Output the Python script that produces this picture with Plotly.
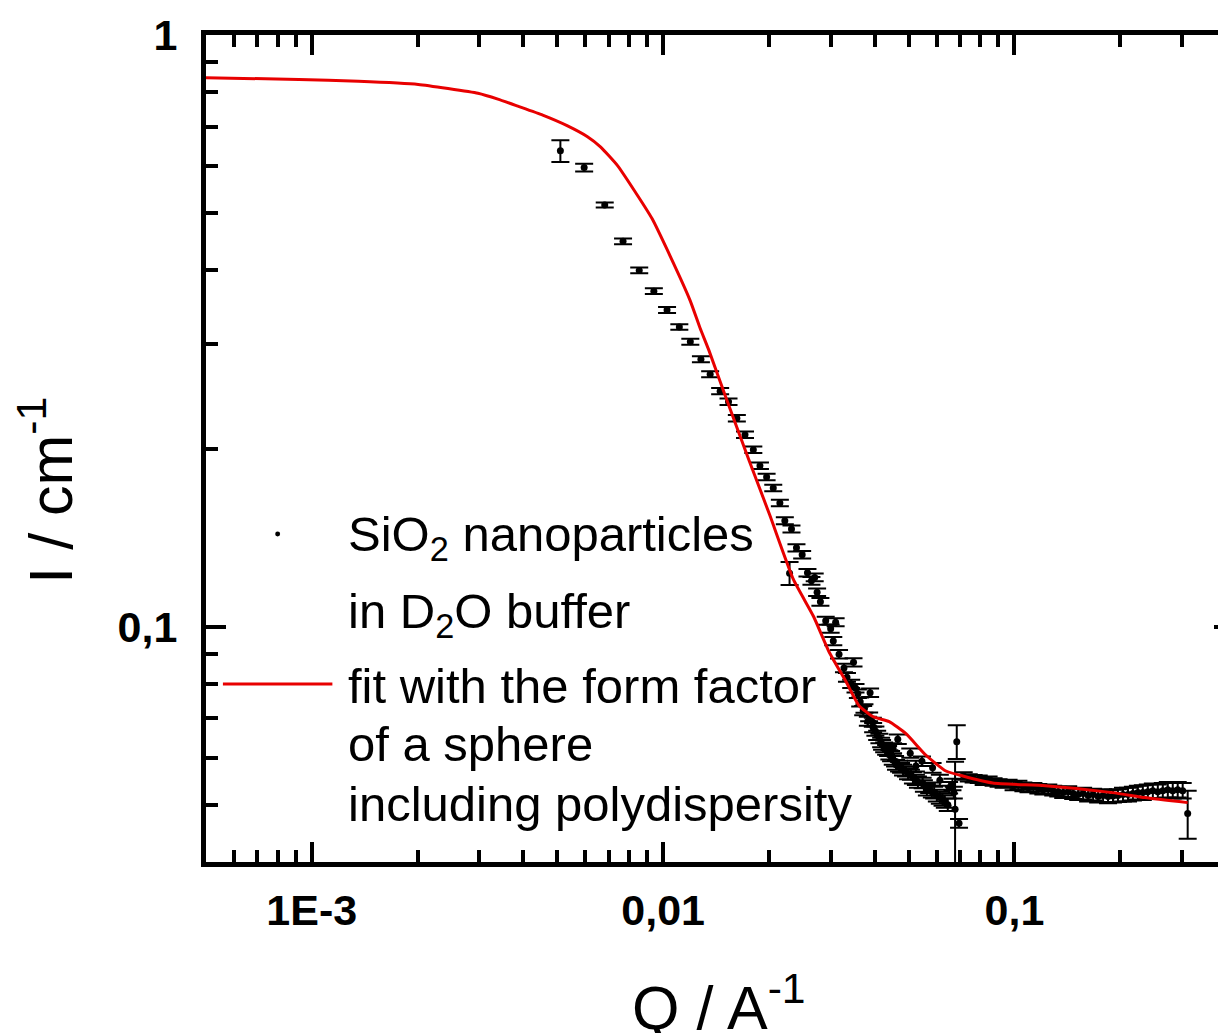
import math
import plotly.graph_objects as go

# Measured small-angle scattering intensity (I / cm^-1 versus Q / A^-1)
q_data = [
    5.10e-3, 5.96e-3, 6.82e-3, 7.69e-3, 8.55e-3, 9.41e-3, 1.026e-2, 1.112e-2,
    1.195e-2, 1.281e-2, 1.361e-2, 1.453e-2, 1.535e-2, 1.621e-2, 1.710e-2, 1.806e-2,
    1.886e-2, 1.970e-2, 2.058e-2, 2.149e-2, 2.220e-2, 2.319e-2, 2.396e-2, 2.487e-2,
    2.290e-2, 2.575e-2, 2.700e-2, 2.643e-2, 2.743e-2, 2.803e-2, 2.902e-2, 3.097e-2,
    2.998e-2, 3.050e-2, 3.167e-2, 3.482e-2, 3.271e-2, 3.336e-2, 3.430e-2, 3.528e-2,
    3.583e-2, 3.882e-2, 3.741e-2, 3.825e-2, 3.952e-2, 4.019e-2, 4.126e-2, 4.654e-2,
    4.199e-2, 4.311e-2, 4.404e-2, 5.050e-2, 4.503e-2, 4.601e-2, 5.452e-2, 4.755e-2,
    4.912e-2, 5.846e-2, 5.074e-2, 5.241e-2, 5.477e-2, 5.717e-2, 5.907e-2, 6.240e-2,
    6.515e-2, 6.660e-2, 6.850e-2, 6.775e-2, 6.953e-2,
    3.638e-2, 3.710e-2, 3.858e-2, 3.960e-2, 4.066e-2, 4.173e-2, 4.256e-2, 4.368e-2,
    4.454e-2, 4.572e-2, 4.693e-2, 4.817e-2, 4.977e-2, 5.140e-2, 5.311e-2, 5.523e-2,
    5.632e-2, 5.819e-2, 6.012e-2, 6.131e-2, 6.334e-2, 6.459e-2,
    4.513e-2, 5.241e-2, 6.131e-2, 6.718e-2,
    0.0717, 0.0741, 0.0765, 0.0791, 0.0817, 0.0844, 0.0872, 0.0901, 0.0931, 0.0962,
    0.0994, 0.1026, 0.1060, 0.1096, 0.1132, 0.1169, 0.1208, 0.1248, 0.1289, 0.1332,
    0.1376, 0.1422, 0.1469, 0.1518, 0.1568, 0.1620, 0.1674, 0.1730, 0.1787, 0.1846,
    0.1907, 0.1970, 0.2036, 0.2104, 0.2173, 0.2245, 0.2319, 0.2396, 0.2476, 0.2558,
    0.2643, 0.2731, 0.2821, 0.2914, 0.3011, 0.3111,
]
i_data = [
    0.637, 0.597, 0.516, 0.448, 0.400, 0.369, 0.343, 0.321,
    0.303, 0.283, 0.267, 0.250, 0.240, 0.225, 0.211, 0.199,
    0.187, 0.179, 0.1715, 0.1618, 0.1510, 0.1462, 0.1359, 0.1323,
    0.1231, 0.1233, 0.1211, 0.1195, 0.1143, 0.1101, 0.1023, 0.1017,
    0.0992, 0.0945, 0.0898, 0.0870, 0.0851, 0.0821, 0.0800, 0.0787,
    0.0770, 0.0773, 0.0727, 0.0692, 0.0689, 0.0666, 0.0647, 0.0645,
    0.0631, 0.0619, 0.0607, 0.0611, 0.0595, 0.0584, 0.0592, 0.0577,
    0.0569, 0.0577, 0.0562, 0.0551, 0.0544, 0.0534, 0.0524, 0.0510,
    0.0534, 0.0541, 0.0639, 0.0491, 0.0465,
    0.0746, 0.0721, 0.0704, 0.0675, 0.0655, 0.0637, 0.0625, 0.0616,
    0.0604, 0.0592, 0.0581, 0.0572, 0.0564, 0.0555, 0.0546, 0.0538,
    0.0530, 0.0526, 0.0518, 0.0514, 0.0506, 0.0500,
    0.0623, 0.0581, 0.0550, 0.0524,
    0.0559, 0.0555, 0.0553, 0.0552, 0.0548, 0.0550, 0.0546, 0.0544, 0.0542, 0.0543,
    0.0538, 0.0540, 0.0536, 0.0534, 0.0535, 0.0532, 0.0530, 0.0531, 0.0528, 0.0526,
    0.0524, 0.0526, 0.0522, 0.0520, 0.0522, 0.0518, 0.0520, 0.0516, 0.0518, 0.0516,
    0.0517, 0.0518, 0.0520, 0.0520, 0.0522, 0.0524, 0.0524, 0.0526, 0.0528, 0.0526,
    0.0528, 0.0530, 0.0528, 0.0530, 0.0528, 0.0483,
]
i_err = [
    0.027, 0.009, 0.005, 0.005, 0.0045, 0.004, 0.004, 0.0035,
    0.0035, 0.0033, 0.0031, 0.003, 0.003, 0.0028, 0.0026, 0.0025,
    0.0024, 0.0023, 0.0022, 0.0021, 0.002, 0.002, 0.0019, 0.0019,
    0.0055, 0.0018, 0.0018, 0.0018, 0.0017, 0.0017, 0.0016, 0.0016,
    0.0016, 0.0015, 0.0015, 0.0014, 0.0014, 0.0014, 0.0013, 0.0013,
    0.0013, 0.0013, 0.0012, 0.0012, 0.0012, 0.0012, 0.0012, 0.0012,
    0.0012, 0.0012, 0.0011, 0.0011, 0.0011, 0.0011, 0.0011, 0.0011,
    0.0011, 0.0011, 0.0011, 0.0011, 0.0011, 0.0011, 0.0012, 0.0012,
    0.0012, 0.0012, 0.0042, 0.0100, 0.0008,
    0.0013, 0.0013, 0.0012, 0.0012, 0.0012, 0.0012, 0.0012, 0.0012,
    0.0012, 0.0012, 0.0012, 0.0012, 0.0012, 0.0012, 0.0012, 0.0012,
    0.0012, 0.0012, 0.0012, 0.0012, 0.0012, 0.0012,
    0.0012, 0.0012, 0.0012, 0.0012,
    0.0008, 0.0008, 0.0008, 0.0008, 0.0008, 0.0008, 0.0008, 0.0008, 0.0008, 0.0008,
    0.0009, 0.0009, 0.0009, 0.0009, 0.0009, 0.0010, 0.0010, 0.0010, 0.0010, 0.0010,
    0.0011, 0.0011, 0.0011, 0.0011, 0.0012, 0.0012, 0.0012, 0.0012, 0.0013, 0.0013,
    0.0013, 0.0013, 0.0014, 0.0014, 0.0014, 0.0014, 0.0015, 0.0015, 0.0015, 0.0015,
    0.0016, 0.0016, 0.0016, 0.0016, 0.0016, 0.0045,
]

# Sphere form factor fit including polydispersity
fit_q = [
    5.0e-4, 9.19e-4, 1.358e-3, 2.009e-3, 2.443e-3, 2.972e-3, 3.386e-3, 3.859e-3,
    4.542e-3, 5.346e-3, 6.091e-3, 6.631e-3, 7.408e-3, 8.277e-3, 9.307e-3,
    1.026e-2, 1.193e-2, 1.273e-2, 1.350e-2, 1.518e-2, 1.762e-2, 2.01e-2, 2.35e-2,
    2.68e-2, 2.97e-2, 3.32e-2, 3.61e-2, 3.96e-2, 4.40e-2, 4.91e-2, 5.60e-2,
    6.38e-2, 7.13e-2, 8.67e-2, 0.1225, 0.190, 0.235, 0.311,
]
fit_i = [
    0.847, 0.841, 0.835, 0.825, 0.812, 0.797, 0.779, 0.758,
    0.732, 0.702, 0.673, 0.647, 0.602, 0.546, 0.489,
    0.434, 0.356, 0.320, 0.293, 0.2415, 0.190, 0.1545, 0.120,
    0.104, 0.0905, 0.0806, 0.0735, 0.0704, 0.0691, 0.0659, 0.0606,
    0.0570, 0.0559, 0.0544, 0.0538, 0.0524, 0.0514, 0.0504,
]

x_tick_vals = [1e-3, 1e-2, 1e-1]
x_tick_text = ["1E-3", "0,01", "0,1"]
y_tick_vals = [0.1, 1]
y_tick_text = ["0,1", "1"]

legend_lines = [
    "SiO<sub>2</sub> nanoparticles",
    "in D<sub>2</sub>O buffer",
    "fit with the form factor",
    "of a sphere",
    "including polydispersity",
]

FONT = "Liberation Sans, Arial, Helvetica, sans-serif"
W, H = 1250, 1033
L, R, T, B = 206, 11, 30, 171
PW, PH = W - L - R, H - T - B
DECADE_PX = 353.07          # horizontal length of one decade of Q
X_LO = 5e-4
X_HI = X_LO * 10 ** (PW / DECADE_PX)
Y_LO, Y_HI = 0.04, 1.0


def paper_x(p):
    return (p - L) / PW


def paper_y(p):
    return (H - B - p) / PH


minor_x = [k * 10.0 ** e for e in (-4, -3, -2, -1) for k in range(2, 10)]
minor_x = [v for v in minor_x if X_LO <= v <= X_HI]
minor_y = [k * 10.0 ** e for e in (-2, -1) for k in range(2, 10)]
minor_y = [v for v in minor_y if Y_LO <= v < Y_HI]

fig = go.Figure()

fig.add_trace(go.Scatter(
    x=q_data, y=i_data, mode="markers",
    marker=dict(color="black", size=7),
    error_y=dict(type="data", array=i_err, visible=True,
                 color="black", thickness=2, width=9),
    showlegend=False,
))

fig.add_trace(go.Scatter(
    x=fit_q, y=fit_i, mode="lines",
    line=dict(color="rgb(232,0,0)", width=3, shape="spline", smoothing=0.5),
    showlegend=False,
))

axis_common = dict(
    type="log", showline=True, linewidth=5, linecolor="black", mirror="ticks",
    ticks="inside", ticklen=20, tickwidth=4, tickcolor="black",
    showgrid=False, zeroline=False,
    tickfont=dict(family=FONT, size=43, color="black", weight="bold"),
)

fig.update_xaxes(
    **axis_common,
    range=[math.log10(X_LO), math.log10(X_HI)],
    tickmode="array", tickvals=x_tick_vals, ticktext=x_tick_text,
    ticklabelstandoff=6,
    minor=dict(tickmode="array", tickvals=minor_x, ticks="inside",
               ticklen=12, tickwidth=4, tickcolor="black", showgrid=False),
)
fig.update_yaxes(
    **axis_common,
    range=[math.log10(Y_LO), math.log10(Y_HI)],
    tickmode="array", tickvals=y_tick_vals, ticktext=y_tick_text,
    ticklabelstandoff=15,
    minor=dict(tickmode="array", tickvals=minor_y, ticks="inside",
               ticklen=12, tickwidth=4, tickcolor="black", showgrid=False),
)

annotations = []
# legend text, one annotation per line (baseline pixel rows)
for text, base in zip(legend_lines, [548, 626, 701, 760, 820]):
    annotations.append(dict(
        text=text, xref="paper", yref="paper",
        x=paper_x(347), y=paper_y(base - 45.5), xanchor="left", yanchor="top",
        showarrow=False, font=dict(family=FONT, size=49, color="black"),
    ))

# axis titles
annotations.append(dict(
    text="Q / A<sup>-1</sup>", xref="paper", yref="paper",
    x=paper_x(632), y=paper_y(1045), xanchor="left", yanchor="bottom",
    showarrow=False, font=dict(family=FONT, size=61, color="black"),
))
annotations.append(dict(
    text="I / cm<sup>-1</sup>", xref="paper", yref="paper",
    x=paper_x(87), y=paper_y(584), xanchor="right", yanchor="bottom",
    textangle=-90, showarrow=False,
    font=dict(family=FONT, size=61, color="black"),
))

shapes = [
    # legend symbol for the measured data
    dict(type="circle", xref="paper", yref="paper",
         x0=paper_x(275.5), x1=paper_x(280.5),
         y0=paper_y(534.5), y1=paper_y(529.5),
         fillcolor="black", line=dict(width=0)),
    # legend symbol for the fit
    dict(type="line", xref="paper", yref="paper",
         x0=paper_x(223), x1=paper_x(333), y0=paper_y(683), y1=paper_y(683),
         line=dict(color="rgb(232,0,0)", width=3)),
]

fig.update_layout(
    width=W, height=H, autosize=False,
    margin=dict(l=L, r=R, t=T, b=B, pad=0),
    paper_bgcolor="white", plot_bgcolor="white",
    showlegend=False,
    annotations=annotations, shapes=shapes,
    font=dict(family=FONT, color="black"),
)

fig.write_html(
    "out.html",
    post_script=(
        "document.documentElement.style.overflow='hidden';"
        "document.body.style.overflow='hidden';"
        "document.body.style.margin='0';"
    ),
)
